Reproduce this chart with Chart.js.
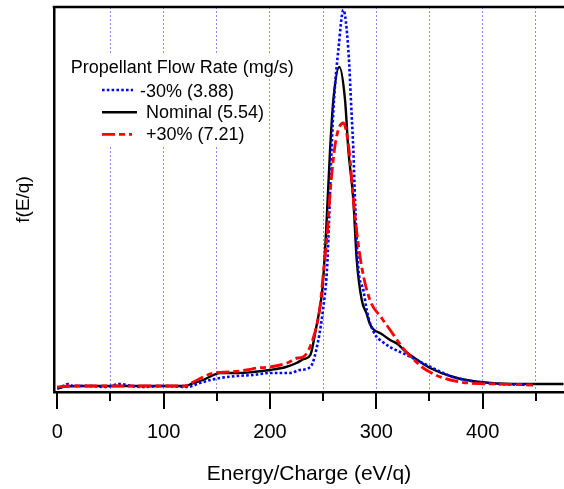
<!DOCTYPE html>
<html>
<head>
<meta charset="utf-8">
<script src="https://cdn.jsdelivr.net/npm/chart.js@4.4.1/dist/chart.umd.min.js"></script>
<style>
  body { margin: 0; background: #fff; }
</style>
</head>
<body>
<canvas id="plot" width="564" height="489"></canvas>
<script>
var FONT = '"Liberation Sans", Arial, sans-serif';

// Energy/charge (eV/q) and f(E/q) in arbitrary units
var energyLow = [0, 5, 10, 15, 30, 45, 59, 70, 81, 100, 122, 134, 144, 153, 169, 184, 200, 219, 228, 238,
                 245.5, 250.2, 253.4, 254.9, 257.9, 260.2, 264.3, 269, 273.7, 276.9, 278.4, 280, 283,
                 287.8, 291, 294, 300.4, 303.5, 312.9, 328.6, 347.4, 372.4, 403.8, 447.4];
var fluxLow = [4, 6, 8, 6, 6, 5, 8, 6, 5, 6, 5, 9, 12, 14, 16, 17, 19, 19, 22, 25,
               52, 85, 119, 152, 242, 292, 342, 382, 342, 275, 242, 192, 125,
               102, 82, 69, 55, 52, 45, 37, 27, 15, 9, 7];

var energyNominal = [0, 5, 20, 50, 80, 100, 120, 128, 137, 147, 153, 169, 184, 200, 215, 225, 232, 238,
                     243, 248.7, 250.2, 253, 256.5, 259.6, 265.2, 270.6, 273.7, 278.4, 281.6, 286.3,
                     291, 294, 297, 305, 313, 320, 328, 340, 350.5, 372.4, 397.5, 428.9, 476];
var fluxNominal = [3, 5, 6, 6, 6, 6, 6, 9, 12, 17, 19, 19, 20, 22, 25, 29, 33, 37,
                   62, 97, 115, 165, 242, 292, 325, 292, 242, 192, 132, 92,
                   78, 68, 63, 58, 52, 48, 40, 31, 24, 15, 10, 8, 8];

var energyHigh = [0, 10, 30, 60, 90, 120, 128, 137, 147, 162, 178, 188, 200, 216, 226, 231, 241, 247,
                  250.2, 253.4, 257, 262, 269, 274, 280, 286.3, 294, 305, 313, 325, 329, 347, 379, 413, 447];
var fluxHigh = [5, 6, 6, 6, 6, 6, 10, 15, 19, 20, 22, 24, 25, 29, 34, 35, 55, 85,
                119, 152, 205, 252, 269, 245, 175, 125, 92, 74, 62, 44, 39, 22, 10, 8, 7];

var seriesLabels = ['-30% (3.88)', 'Nominal (5.54)', '+30% (7.21)'];
var legendTitle = 'Propellant Flow Rate (mg/s)';

var xTickValues = [0, 50, 100, 150, 200, 250, 300, 350, 400, 450];
var xTickLabels = ['0', '', '100', '', '200', '', '300', '', '400', ''];

function toPoints(xs, ys) {
    var pts = [];
    for (var i = 0; i < xs.length; i++) {
        pts.push({ x: xs[i], y: ys[i] });
    }
    return pts;
}

var lineStyles = [
    { color: '#0000ff', width: 2.6, dash: [2.6, 2.2] },
    { color: '#000000', width: 2.4, dash: [] },
    { color: '#ff0000', width: 2.8, dash: [13, 4, 6, 4] }
];

// top frame line
var framePlugin = {
    id: 'frame',
    afterDraw: function (chart) {
        var ctx = chart.ctx, a = chart.chartArea;
        ctx.save();
        ctx.strokeStyle = '#000';
        ctx.lineWidth = 2.5;
        ctx.beginPath();
        ctx.moveTo(a.left - 1.25, a.top);
        ctx.lineTo(a.right, a.top);
        ctx.stroke();
        ctx.restore();
    }
};

// major/minor tick marks under the x axis
var tickPlugin = {
    id: 'tickMarks',
    afterDraw: function (chart) {
        var ctx = chart.ctx, xs = chart.scales.x, a = chart.chartArea;
        ctx.save();
        ctx.strokeStyle = '#000';
        ctx.lineWidth = 2;
        xs.ticks.forEach(function (t) {
            var px = Math.round(xs.getPixelForValue(t.value));
            var len = (t.value % 100 === 0) ? 17 : 9;
            ctx.beginPath();
            ctx.moveTo(px, a.bottom);
            ctx.lineTo(px, a.bottom + len);
            ctx.stroke();
        });
        ctx.restore();
    }
};

// legend inside the plot, with a white box behind each row
var legendPlugin = {
    id: 'flowLegend',
    beforeDatasetsDraw: function (chart) {
        var ctx = chart.ctx;
        var textX = [140, 146, 146];
        var baseY = [96.7, 118.3, 140];
        var lineY = [90, 112.3, 134.3];
        var lineEnd = [133, 137, 132];
        ctx.save();
        ctx.font = '18px ' + FONT;
        ctx.textBaseline = 'alphabetic';

        var tw = ctx.measureText(legendTitle).width;
        ctx.fillStyle = '#fff';
        ctx.fillRect(66, 53, tw + 8, 25);
        ctx.fillStyle = '#000';
        ctx.fillText(legendTitle, 70.7, 72.7);

        for (var i = 0; i < seriesLabels.length; i++) {
            var w = ctx.measureText(seriesLabels[i]).width;
            ctx.fillStyle = '#fff';
            ctx.fillRect(98, lineY[i] - 12, textX[i] - 98 + w + 3, 23);
            ctx.fillStyle = '#000';
            ctx.fillText(seriesLabels[i], textX[i], baseY[i]);

            ctx.strokeStyle = lineStyles[i].color;
            ctx.lineWidth = lineStyles[i].width;
            ctx.setLineDash(lineStyles[i].dash);
            ctx.beginPath();
            ctx.moveTo(102, lineY[i]);
            ctx.lineTo(lineEnd[i], lineY[i]);
            ctx.stroke();
            ctx.setLineDash([]);
        }
        ctx.restore();
    }
};

var seriesData = [toPoints(energyLow, fluxLow), toPoints(energyNominal, fluxNominal), toPoints(energyHigh, fluxHigh)];
var drawOrder = [1, 2, 0];
var datasets = [];
for (var i = 0; i < seriesData.length; i++) {
    datasets.push({
        label: seriesLabels[i],
        data: seriesData[i],
        borderColor: lineStyles[i].color,
        backgroundColor: lineStyles[i].color,
        borderWidth: lineStyles[i].width,
        borderDash: lineStyles[i].dash,
        pointRadius: 0,
        fill: false,
        cubicInterpolationMode: 'monotone',
        order: drawOrder[i]
    });
}

new Chart(document.getElementById('plot'), {
    type: 'line',
    data: { datasets: datasets },
    options: {
        responsive: false,
        animation: false,
        layout: { padding: { top: 7, left: 0, right: 0, bottom: 0 } },
        plugins: {
            legend: { display: false },
            tooltip: { enabled: false }
        },
        scales: {
            x: {
                type: 'linear',
                min: -3.1,
                max: 476.5,
                afterBuildTicks: function (scale) {
                    scale.ticks = xTickValues.map(function (v) { return { value: v }; });
                },
                afterFit: function (scale) {
                    scale.height = 97;
                },
                ticks: {
                    autoSkip: false,
                    maxRotation: 0,
                    padding: 28,
                    color: '#000',
                    font: { family: FONT, size: 20 },
                    callback: function (value) {
                        return xTickLabels[xTickValues.indexOf(value)];
                    }
                },
                grid: {
                    drawTicks: false,
                    lineWidth: 1,
                    color: function (ctx) {
                        return (ctx.tick && ctx.tick.value === 0) ? 'rgba(0,0,0,0)' : '#8c8cff';
                    }
                },
                border: { color: '#000', width: 2.5, dash: [2, 2] },
                title: {
                    display: true,
                    text: 'Energy/Charge (eV/q)',
                    color: '#000',
                    font: { family: FONT, size: 21 },
                    padding: { top: 0, bottom: 2 }
                }
            },
            y: {
                min: 0,
                max: 385,
                afterFit: function (scale) {
                    scale.width = 54;
                },
                ticks: { display: false },
                grid: { display: false, drawTicks: false },
                border: { color: '#000', width: 2.5 },
                title: {
                    display: true,
                    text: 'f(E/q)',
                    color: '#000',
                    font: { family: FONT, size: 19 },
                    padding: { top: 12, bottom: 19 }
                }
            }
        }
    },
    plugins: [framePlugin, tickPlugin, legendPlugin]
});
</script>
</body>
</html>
